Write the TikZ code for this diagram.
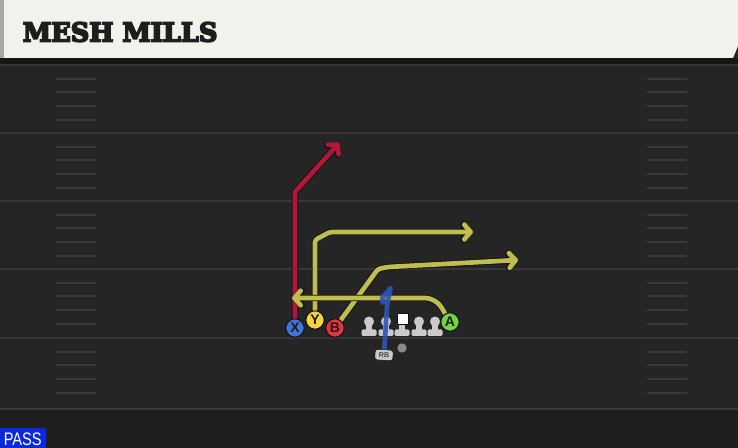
\documentclass[tikz,border=0pt]{standalone}
\usepackage{fontspec}
\usepackage{graphicx}
\setmainfont{Liberation Sans}
\newfontfamily\titlefont{DejaVu Serif}[BoldFont={DejaVu Serif Bold}]
\newcommand\heavytext[1]{\special{pdf:literal direct 2 Tr 0.65 w 0.118 0.118 0.118 RG}#1\special{pdf:literal direct 0 Tr}}
\usetikzlibrary{arrows.meta}
\definecolor{fieldbg}{HTML}{252525}
\definecolor{fieldlow}{HTML}{1F1F1F}
\definecolor{yardline}{HTML}{383838}
\definecolor{hashc}{HTML}{393939}
\definecolor{headbg}{HTML}{F3F1EB}
\definecolor{headstripe}{HTML}{A6A6A3}
\definecolor{darkband}{HTML}{161616}
\definecolor{titlec}{HTML}{1E1E1E}
\definecolor{passblue}{HTML}{0B28DA}
\definecolor{redroute}{HTML}{B2173B}
\definecolor{yelroute}{HTML}{BFBD4E}
\definecolor{bluroute}{HTML}{2C55B6}
\definecolor{edgec}{HTML}{121212}
\definecolor{xblue}{HTML}{3F75DA}
\definecolor{yyellow}{HTML}{F4D43C}
\definecolor{bred}{HTML}{E5343F}
\definecolor{agreen}{HTML}{72D53F}
\definecolor{olgray}{HTML}{CACACA}
\definecolor{qbgray}{HTML}{8A8A8A}
\pgfdeclarelayer{bg}
\pgfdeclarelayer{rt}
\pgfsetlayers{bg,rt,main}
\begin{document}
\begin{tikzpicture}[x=0.75pt,y=-0.75pt,
  route/.style={line width=3.5pt, line cap=round, line join=round,
    -{Straight Barb[length=4.8pt,width=11pt,line cap=round,line join=round]},
    preaction={draw=edgec, line width=4.8pt}},
  bluerte/.style={line width=3.5pt, line cap=round, line join=round, draw=bluroute},
  player/.style={circle, draw=edgec, line width=0.8pt, minimum size=13.8pt, inner sep=0pt,
    font=\fontsize{10.5}{10.5}\selectfont\bfseries, text=titlec},
  helmet/.style={circle, fill=olgray, minimum size=7.5pt, inner sep=0pt},
  centerbox/.style={rectangle, fill=white, draw=edgec, line width=0.4pt, minimum width=8.5pt, minimum height=8pt, inner sep=0pt},
  hashmark/.style={draw=hashc, line width=1.5pt},
  yard/.style={draw=yardline, line width=1.5pt}
]
\useasboundingbox (0,0) rectangle (738,448);

% ---------- field ----------
\begin{pgfonlayer}{bg}
\fill[fieldbg] (0,0) rectangle (738,448);
\fill[fieldlow] (0,409) rectangle (738,448);
\fill[darkband] (0,58) rectangle (738,64);
\foreach \y in {65,133,201,269,338,409} {
  \draw[yard] (0,\y) -- (738,\y);
}
\foreach \y in {65,133,201,269,338} {
  \foreach \d in {14,27.5,41,55} {
    \draw[hashmark] (56,\y+\d) -- (96,\y+\d);
    \draw[hashmark] (647,\y+\d) -- (687,\y+\d);
  }
}
% header
\fill[headbg] (4,0) -- (738,0) -- (738,46) -- (733,58) -- (4,58) -- cycle;
\fill[headstripe] (0,0) rectangle (4,58);
% offensive line (stems and bases)
\foreach \x in {369,386,402,419,435} {
  \fill[olgray] (\x-2.8,321) rectangle (\x+2.8,331);
  \fill[olgray, rounded corners=1pt] (\x-7.5,329.5) rectangle (\x+7.5,336);
}
\node[helmet] (LT) at (369,321.5) {};
\node[helmet] (LG) at (386,321.5) {};
\node[helmet] (RG) at (419,321.5) {};
\node[helmet] (RT) at (435,321.5) {};
\node[centerbox] (C) at (402.5,318.5) {};
\end{pgfonlayer}

% ---------- title & tag ----------
\node[anchor=base west, inner sep=0pt, text=titlec] (title) at (22.5,41.5)
  {\resizebox{146pt}{14.5pt}{\titlefont\bfseries\heavytext{MESH MILLS}}};
\fill[passblue] (0,428) rectangle (46,448);
\node[anchor=base west, inner sep=0pt, text=white] (pass) at (3.5,445.5)
  {\resizebox{28.5pt}{9.5pt}{PASS}};

% ---------- players ----------
\node[player, fill=xblue] (X) at (295,328) {X};
\node[player, fill=yyellow] (Y) at (315,320) {Y};
\node[player, fill=bred] (B) at (335,328) {B};
\node[player, fill=agreen] (A) at (450,322) {A};
\node[circle, fill=qbgray, minimum size=7pt, inner sep=0pt] (QB) at (402,348) {};
\node[rectangle, rounded corners=2pt, fill=olgray, draw=edgec, line width=0.4pt,
  minimum width=13.5pt, minimum height=8pt, inner sep=0pt, rotate=-4,
  font=\fontsize{5.5}{5.5}\selectfont\bfseries, text=titlec!80] (RB) at (384,355) {RB};

% ---------- route end points ----------
\coordinate (xend) at (339,143);
\coordinate (yend) at (473,232);
\coordinate (bend) at (518,260);
\coordinate (aend) at (292,298);

% ---------- routes ----------
\begin{pgfonlayer}{rt}
\draw[route, draw=redroute] (X) -- (295,192) -- (xend);
\draw[route, draw=yelroute, rounded corners=2pt] (Y) -- (315,240) -- (330,232) -- (yend);
\draw[route, draw=yelroute, rounded corners=2pt] (B) -- (378,269) -- (388,267) -- (bend);
\draw[route, draw=yelroute, rounded corners=8pt] (A) -- (436,298) -- (aend);
\draw[bluerte, opacity=0.9] (RB) -- (387,306) -- (390.5,288) -- (382.5,297.5) -- (382.5,302.5) -- (388,301);
\end{pgfonlayer}
\end{tikzpicture}
\end{document}
